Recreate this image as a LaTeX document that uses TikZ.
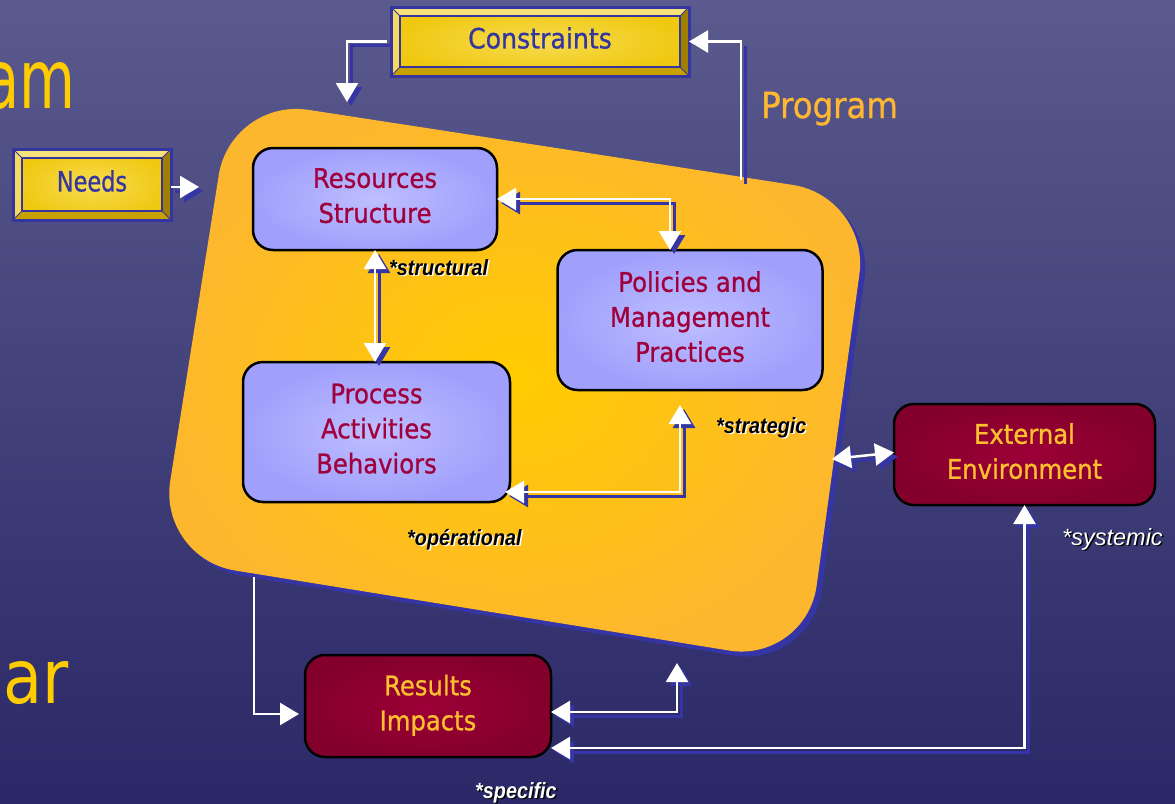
\documentclass[tikz,border=0pt]{standalone}
\usepackage{fontspec}
\setmainfont{DejaVu Sans}
\newfontfamily\nodefont[FakeStretch=0.9,FakeBold=0.8]{DejaVu Sans}
\newfontfamily\needfont[FakeStretch=0.8,FakeBold=0.8]{DejaVu Sans}
\newfontfamily\amfont[FakeStretch=0.7]{DejaVu Sans}
\newfontfamily\arfont[FakeStretch=0.85]{DejaVu Sans}
\newfontfamily\labfont[FakeStretch=0.9]{Liberation Sans}
\newfontfamily\labrfont{Liberation Sans}
\usetikzlibrary{arrows.meta,calc}
\definecolor{bgtop}{HTML}{5A5A8E}
\definecolor{bgbot}{HTML}{2A2866}
\definecolor{shblue}{HTML}{3535A5}
\definecolor{orng}{HTML}{FDB72E}
\definecolor{orngc}{HTML}{FFCC00}
\definecolor{lavo}{HTML}{A0A0FC}
\definecolor{lavi}{HTML}{BEBEFF}
\definecolor{crim}{HTML}{A0003C}
\definecolor{wine}{HTML}{84002C}
\definecolor{winec}{HTML}{9C0036}
\definecolor{gold}{HTML}{FFC030}
\definecolor{facey}{HTML}{F0C810}
\definecolor{faceyc}{HTML}{F6DC50}
\definecolor{bevtop}{HTML}{F8E27A}
\definecolor{bevleft}{HTML}{F4DA60}
\definecolor{bevbot}{HTML}{C8A000}
\definecolor{bevright}{HTML}{A08000}
\definecolor{ytext}{HTML}{3535A0}
\definecolor{progc}{HTML}{FFB830}
\definecolor{bigc}{HTML}{FFCC00}
\tikzset{
 bevelnode/.style={inner sep=0pt, outer sep=0pt, inner color=faceyc, outer color=facey, text=ytext, font=\nodefont\fontsize{28}{34}\selectfont},
 lavbox/.style={rounded corners=20pt, draw=black, line width=2.5pt, inner color=lavi, outer color=lavo, text=crim, align=center, font=\nodefont\fontsize{27}{35}\selectfont, inner sep=0pt, outer sep=0pt},
 winebox/.style={lavbox, inner color=winec, outer color=wine, text=gold},
 wline/.style={draw=white, line width=2.5pt},
 sline/.style={draw=shblue, line width=3pt, transform canvas={shift={(4pt,-4pt)}}},
 lab/.style={inner sep=0pt, anchor=base west, font=\labfont\bfseries\itshape\fontsize{22}{24}\selectfont},
 labr/.style={inner sep=0pt, anchor=base west, font=\labrfont\itshape\fontsize{23.5}{26}\selectfont},
}
\newcommand\dn{\rule[-7pt]{0pt}{7pt}}
\newcommand\bevelize[1]{%
 \fill[bevtop] (#1.north west) -- (#1.north east) -- ($(#1.north east)+(-9,9)$) -- ($(#1.north west)+(9,9)$) -- cycle;
 \fill[bevleft] (#1.north west) -- ($(#1.north west)+(9,9)$) -- ($(#1.south west)+(9,-9)$) -- (#1.south west) -- cycle;
 \fill[bevbot] (#1.south west) -- ($(#1.south west)+(9,-9)$) -- ($(#1.south east)+(-9,-9)$) -- (#1.south east) -- cycle;
 \fill[bevright] (#1.north east) -- (#1.south east) -- ($(#1.south east)+(-9,-9)$) -- ($(#1.north east)+(-9,9)$) -- cycle;
 \draw[ytext, line width=1.2pt] ($(#1.north west)+(9,9)$) rectangle ($(#1.south east)+(-9,-9)$);
 \draw[ytext, line width=1pt] (#1.north west) -- ($(#1.north west)+(9,9)$) (#1.north east) -- ($(#1.north east)+(-9,9)$) (#1.south west) -- ($(#1.south west)+(9,-9)$) (#1.south east) -- ($(#1.south east)+(-9,-9)$);
 \draw[ytext, line width=3pt] (#1.north west) rectangle (#1.south east);
}
\newcommand\conn[2]{\draw[sline,#1] #2; \draw[wline,#1] #2;}
\newcommand\shlab[6]{%
 \node[#1, text=#5] (#2s) at ($#3+(1.5,1.5)$) {#6};
 \node[#1, text=#4] (#2) at #3 {#6};
}
\begin{document}
\begin{tikzpicture}[x=1pt,y=-1pt,>={Triangle[length=19pt,width=22pt]}]
\useasboundingbox (0,0) rectangle (1175,803);
\clip (0,0) rectangle (1175,803);
\shade[top color=bgtop, bottom color=bgbot] (0,0) rectangle (1175,803);
% background title fragments
\node[anchor=base east, inner sep=0pt, text=bigc, font=\amfont\fontsize{82}{90}\selectfont] (Am) at (76,108) {am};
\node[anchor=base west, inner sep=0pt, text=bigc, font=\arfont\fontsize{75}{80}\selectfont] (Ar) at (3,703) {ar};
\node[anchor=base west, inner sep=0pt, text=progc, font=\nodefont\fontsize{36}{40}\selectfont] (Program) at (761,118) {Program};
% program blob
\fill[shblue, rounded corners=78pt] (555,152) -- (875,202) -- (811,668) -- (163,563) -- (236,103) -- cycle;
\shade[rounded corners=78pt, inner color=orngc, outer color=orng] (550,147) -- (870,197) -- (806,663) -- (158,558) -- (231,98) -- cycle;
% boxes
\node[bevelnode, minimum width=298pt, minimum height=69pt] (Constraints) at (540,41.5) {};
\node[bevelnode, minimum width=158pt, minimum height=71pt] (Needs) at (92,184.5) {};
\bevelize{Constraints}
\bevelize{Needs}
\node[text=ytext, font=\nodefont\fontsize{28}{34}\selectfont, inner sep=0pt] (ConstraintsT) at (540,38) {Constraints};
\node[text=ytext, font=\needfont\fontsize{28}{34}\selectfont, inner sep=0pt] (NeedsT) at (92,181) {Needs};
\node[lavbox, minimum width=244pt, minimum height=102pt] (Resources) at (375,199) {Resources\\Structure\dn};
\node[lavbox, minimum width=265pt, minimum height=140pt] (Policies) at (690,320) {Policies and\\Management\\Practices\dn};
\node[lavbox, minimum width=267pt, minimum height=140pt] (Process) at (376.5,432) {Process\\Activities\\Behaviors\dn};
\node[winebox, minimum width=261pt, minimum height=101pt] (External) at (1024.5,454.5) {External\\Environment\dn};
\node[winebox, minimum width=246pt, minimum height=102pt] (Results) at (428,706) {Results\\Impacts\dn};
% free ends on the blob
\coordinate (cIn) at (347,102);
\coordinate (pBot) at (741,180);
\coordinate (nIn) at (199,187);
\coordinate (eL) at (832,459);
\coordinate (rOut) at (254,577);
\coordinate (rIn) at (677,663);
% connectors
\conn{->}{($(Constraints.west)+(-4,0)$) -| (cIn)}
\draw[sline] (pBot) -- (pBot |- Constraints.east);
\draw[wline,->] (pBot) |- (Constraints.east);
\conn{->}{(Needs.east |- nIn) -- (nIn)}
\conn{<->}{(Resources.east) -| ($(Policies.north)+(-20,0)$)}
\conn{<->}{(Resources.south) -- (Resources.south |- Process.north)}
\conn{<->}{($(Process.south east)+(-5,-10)$) -| ($(Policies.south)+(-10,15)$)}
\conn{<->}{(eL) -- ($(External.west)+(0,-2)$)}
\draw[wline,->] (rOut) |- ($(Results.west)+(-6,8)$);
\conn{<->}{($(Results.east)+(0,6)$) -| (rIn)}
\conn{<->}{($(Results.east)+(0,42)$) -| (External.south)}
% labels
\shlab{lab}{Lstruct}{(389,275)}{black}{white}{*structural}
\shlab{lab}{Lstrat}{(716,433)}{black}{white}{*strategic}
\shlab{lab}{Loper}{(407,545)}{black}{white}{*opérational}
\shlab{labr}{Lsys}{(1062,545)}{white}{black}{*systemic}
\shlab{lab}{Lspec}{(475,798)}{white}{black}{*specific}
\end{tikzpicture}
\end{document}
